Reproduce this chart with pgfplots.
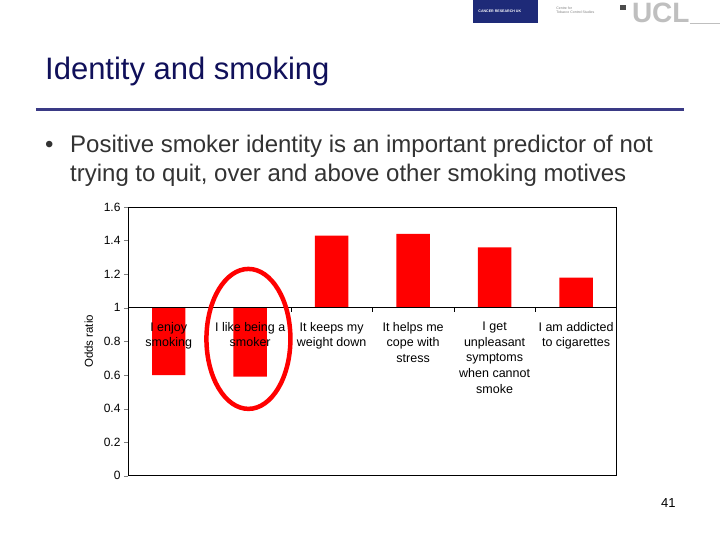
\documentclass[border=0pt]{standalone}
\usepackage{fontspec}
\setmainfont{Liberation Sans}
\usepackage{pgfplots}
\pgfplotsset{compat=1.18}
\usepackage{pgfplotstable}

\definecolor{titleblue}{HTML}{10105A}
\definecolor{rulecol}{HTML}{3A3A85}
\definecolor{bodygray}{HTML}{333333}
\definecolor{crukblue}{HTML}{1E2A78}

\tikzset{cat/.style={anchor=north, inner sep=0, align=center, yshift=-14pt, font=\fontsize{12.5}{15.7}\selectfont}}

% odds ratios, bars start at 1
\pgfplotstableread{
x or
1 0.60
2 0.59
3 1.43
4 1.44
5 1.36
6 1.18
}\oddsdata

\begin{document}
\begin{tikzpicture}[x=1pt,y=1pt]
\fill[white] (0,0) rectangle (720,540);
\coordinate (axSW) at (128,64);

% logos
\fill[crukblue] (473,517) rectangle (538,540);
\node[text=white, font=\fontsize{3.6}{4}\selectfont\bfseries, anchor=west] at (475,528.5) {CANCER RESEARCH UK};
\node[text=gray, font=\fontsize{3.5}{4}\selectfont, align=left, anchor=west] at (553,530) {Centre for\\Tobacco Control Studies};
\fill[black!70] (620,530) rectangle (626,535);
\node[text=black!25, font=\fontsize{28}{28}\selectfont\bfseries, anchor=base west, inner sep=0] at (632,517) {UCL};
\draw[black!25] (690,517) -- (720,517);

% title and rule
\node[anchor=base west, inner sep=0, text=titleblue, font=\fontsize{31}{34}\selectfont] at (45,460) {Identity and smoking};
\draw[rulecol, line width=3pt] (36,430) -- (684,430);

% bullet text
\node[anchor=base west, inner sep=0, text=bodygray, font=\fontsize{24}{29}\selectfont] at (45,387) {\textbullet};
\node[anchor=base west, inner sep=0, text=bodygray, font=\fontsize{24}{29}\selectfont] at (70,387)
  {Positive smoker identity is an important predictor of not};
\node[anchor=base west, inner sep=0, text=bodygray, font=\fontsize{24}{29}\selectfont] at (70,358)
  {trying to quit, over and above other smoking motives};

\begin{axis}[
    at={(axSW)}, anchor=south west,
    width=489pt, height=269pt, scale only axis,
    xmin=0.5, xmax=6.5, ymin=-1, ymax=0.6,
    xtick=\empty,
    ytick={-1,-0.8,-0.6,-0.4,-0.2,0,0.2,0.4,0.6},
    yticklabels={0,0.2,0.4,0.6,0.8,1,1.2,1.4,1.6},
    tick align=outside, major tick length=4pt,
    ytick pos=left,
    tick label style={font=\fontsize{12}{14}\selectfont},
    /pgf/number format/assume math mode=true,
    ylabel={Odds ratio},
    ylabel style={at={(axis description cs:-0.08,0.5)}, anchor=center, font=\fontsize{11.5}{13}\selectfont},
    axis line style={black, line width=0.8pt},
    clip=false,
  ]
  \addplot[ybar, bar width=0.41, fill=red, draw=none] table[x=x, y expr=\thisrow{or}-1] {\oddsdata};
  \draw[black, line width=0.8pt] (axis cs:0.5,0) -- (axis cs:6.5,0);
  \pgfplotsinvokeforeach{1.5,2.5,3.5,4.5,5.5}{
    \draw[black, line width=0.6pt] (axis cs:#1,0) -- ([yshift=-4pt]axis cs:#1,0);
  }
  \node[cat] at (axis cs:1,0) {I enjoy\\smoking};
  \node[cat] at (axis cs:2,0) {I like being a\\smoker};
  \node[cat] at (axis cs:3,0) {It keeps my\\weight down};
  \node[cat] at (axis cs:4,0) {It helps me\\cope with\\stress};
  \node[cat] at (axis cs:5,0) {I get\\unpleasant\\symptoms\\when cannot\\smoke};
  \node[cat] at (axis cs:6,0) {I am addicted\\to cigarettes};
\end{axis}

% highlight ring
\draw[red, line width=4.5pt] (248.5,201) ellipse [x radius=42, y radius=70];

% page number
\node[anchor=base west, inner sep=0, font=\fontsize{13}{15}\selectfont] at (661,32) {41};
\end{tikzpicture}
\end{document}
